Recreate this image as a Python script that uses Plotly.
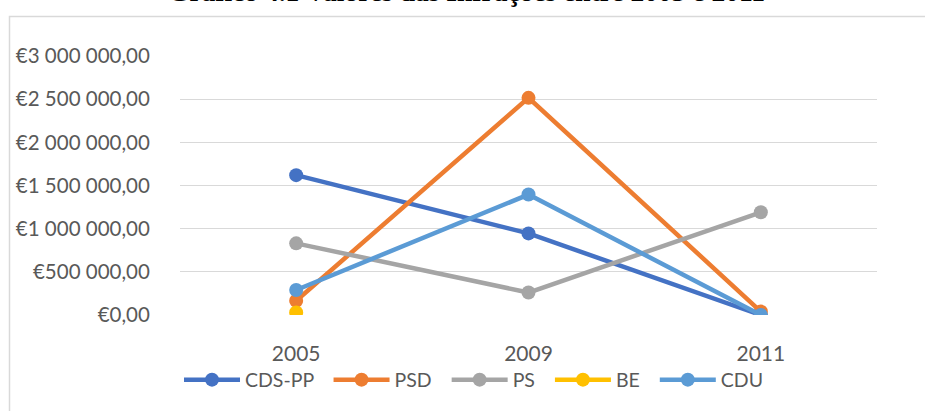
import plotly.graph_objects as go

# ---- data ----
YEARS = ["2005", "2009", "2011"]
CDS_PP = [1620000, 945000, 0]
PSD = [165000, 2515000, 40000]
PS = [830000, 260000, 1190000]
BE = [30000, None, None]
CDU = [290000, 1395000, 0]
SERIES_NAMES = ["CDS-PP", "PSD", "PS", "BE", "CDU"]
Y_TICK_VALUES = [0, 500000, 1000000, 1500000, 2000000, 2500000, 3000000]
Y_TICK_LABELS = ["€0,00", "€500 000,00", "€1 000 000,00", "€1 500 000,00",
                 "€2 000 000,00", "€2 500 000,00", "€3 000 000,00"]
TITLE = "Gráfico 4.1 Valores das Infrações entre 2005 e 2011"

# ---- styles ----
COLORS = ["#4472C4", "#ED7D31", "#A5A5A5", "#FFC000", "#5B9BD5"]
TEXT = "#595959"
GRID = "#D9D9D9"
FONT = "Lato"
LEGEND_PAD = "\u00a0\u00a0"

W, H = 925, 411
# on-screen plot area: x 180..877, y 56..315
L, T = 180, 56
R = W - 877
B = H - 315
pw, ph = W - L - R, H - T - B


def px_x(p):
    return (p - L) / pw


def px_y(p):
    return (H - B - p) / ph


fig = go.Figure()
for name, vals, col in zip(SERIES_NAMES, [CDS_PP, PSD, PS, BE, CDU], COLORS):
    fig.add_trace(go.Scatter(
        x=YEARS, y=vals, name=name + LEGEND_PAD, mode="lines+markers",
        line=dict(color=col, width=4.5),
        marker=dict(color=col, size=14),
    ))

fig.update_layout(
    width=W, height=H,
    margin=dict(l=L, r=R, t=T, b=B, autoexpand=False),
    paper_bgcolor="white", plot_bgcolor="white",
    font=dict(family=FONT, size=19, color=TEXT),
    showlegend=True,
    legend=dict(orientation="h", x=px_x(179), xanchor="left",
                y=px_y(380), yanchor="middle",
                font=dict(family=FONT, size=19.5, color=TEXT),
                itemwidth=56, tracegroupgap=0, itemclick=False),
    xaxis=dict(type="category", range=[-0.5, 2.5], showgrid=False,
               showline=False, zeroline=False, automargin=False,
               ticks="outside", ticklen=20, tickcolor="rgba(0,0,0,0)",
               tickfont=dict(family=FONT, size=21, color=TEXT)),
    yaxis=dict(range=[0, 3000000], tickvals=Y_TICK_VALUES, ticktext=Y_TICK_LABELS,
               showgrid=True, gridcolor=GRID, gridwidth=1, zeroline=False,
               showline=False, automargin=False,
               ticks="outside", ticklen=25, tickcolor="rgba(0,0,0,0)",
               tickfont=dict(family=FONT, size=20.5, color=TEXT)),
)

# outer chart frame (extends beyond the photographed area right/bottom)
fig.add_shape(type="rect", xref="paper", yref="paper",
              x0=px_x(9.5), x1=px_x(960), y0=px_y(440), y1=px_y(16.5),
              line=dict(color=GRID, width=1.5), fillcolor="rgba(0,0,0,0)",
              layer="below")

# title (clipped at the top like the reference)
fig.add_annotation(text="<b>" + TITLE + "</b>", xref="paper", yref="paper",
                   x=px_x(466), y=px_y(-9), xanchor="center", yanchor="middle",
                   showarrow=False,
                   font=dict(family="Liberation Serif", size=27.5, color="black"))

fig.write_html("out.html", config={"displayModeBar": False},
               post_script="document.body.style.margin='0';")
